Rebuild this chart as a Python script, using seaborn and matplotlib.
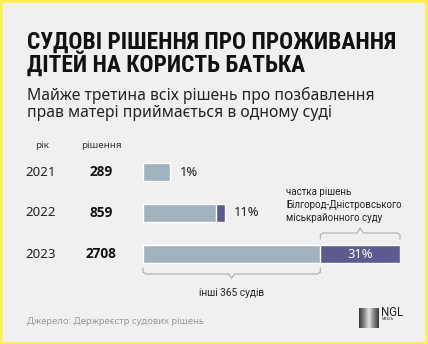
import numpy as np
import pandas as pd
import matplotlib
matplotlib.use("Agg")
import matplotlib.pyplot as plt
from matplotlib import font_manager
import seaborn as sns

# Court decisions on children's residence in favour of the father
years = ["2021", "2022", "2023"]
decisions = [289, 859, 2708]
court_share = [1, 11, 31]  # % handled by the Bilhorod-Dnistrovskyi court
share_labels = ["1%", "11%", "31%"]

df = pd.DataFrame({"year": years, "total": decisions, "share": court_share})
df["others"] = df["total"] * (1 - df["share"] / 100)

W, H = 428, 344
YELLOW = "#fdf04e"
BG = "#f0f0f0"
LIGHT = "#a1b2be"
DARK = "#5c5b8f"
BRACE = "#b4b4b4"

sns.set_theme(style="white")
plt.rcParams["font.family"] = ["Noto Sans", "DejaVu Sans"]

# pick a narrow bold face for the headline if one is installed
installed = {f.name for f in font_manager.fontManager.ttflist}
title_family = "Roboto"
for cand in ["Roboto Condensed", "Liberation Sans Narrow", "Open Sans Condensed",
             "DejaVu Sans Condensed", "Noto Sans Condensed"]:
    if cand in installed:
        title_family = cand
        break

fig = plt.figure(figsize=(W / 100, H / 100), dpi=100)
fig.patch.set_facecolor(YELLOW)

# pixel-space canvas for background and text
cv = fig.add_axes([0, 0, 1, 1])
cv.set_xlim(0, W)
cv.set_ylim(H, 0)
cv.axis("off")
cv.add_patch(plt.Rectangle((3, 3), W - 7, H - 6, color=BG, zorder=0))

title_kw = dict(fontsize=16, fontweight="bold", color="#111111",
                family=title_family, va="center", ha="left")
t1 = cv.text(27, 42, "СУДОВІ РІШЕННЯ ПРО ПРОЖИВАННЯ", **title_kw)
t2 = cv.text(27, 64, "ДІТЕЙ НА КОРИСТЬ БАТЬКА", **title_kw)
# fit the headline to the text column width
renderer = fig.canvas.get_renderer()
w = t1.get_window_extent(renderer).width
fs = 16 * 370 / w
t1.set_fontsize(fs)
t2.set_fontsize(fs)

sub_kw = dict(fontsize=11.3, color="#222222", va="center", ha="left")
cv.text(27, 95, "Майже третина всіх рішень про позбавлення", **sub_kw)
cv.text(27, 113, "прав матері приймається в одному суді", **sub_kw)

cv.text(42, 145, "рік", fontsize=7, color="#333333", ha="center", va="center")
cv.text(101, 145, "рішення", fontsize=7, color="#333333", ha="center", va="center")

cv.text(27, 322, "Джерело: Держреєстр судових рішень", fontsize=6.8,
        color="#999999", ha="left", va="center")

# logo
grad = np.outer(np.ones(20), 1 - np.abs(np.linspace(-1, 1, 20)) ** 0.8)
cv.imshow(grad, cmap="Greys_r", extent=(359, 379, 328, 308), vmin=-0.3, vmax=1.3,
          aspect="auto", zorder=2)
cv.text(381, 312, "NGL", fontsize=8.3, color="#222222", ha="left", va="center",
        family="Roboto")
cv.text(382, 319.5, "MEDIA", fontsize=2.8, color="#333333", ha="left", va="center",
        family="Roboto")

# bar axes: x from 143 px to 400 px, rows centred at 172 / 213.5 / 254 px
x0, x1 = 143, 400
top_px, bot_px = 151.5, 274.5
ax = fig.add_axes([x0 / W, 1 - bot_px / H, (x1 - x0) / W, (bot_px - top_px) / H])
ax.patch.set_alpha(0)

sns.barplot(data=df, x="total", y="year", orient="h", color=DARK,
            width=0.42, saturation=1, ax=ax)
sns.barplot(data=df, x="others", y="year", orient="h", color=LIGHT,
            width=0.42, saturation=1, ax=ax)
ax.set_xlim(0, max(decisions))
ax.set_ylim(2.5, -0.5)
ax.axis("off")

for i, (y, tot, sh, lab) in enumerate(zip(years, decisions, court_share, share_labels)):
    cv.text(41, 172 + i * 41, y, fontsize=9.6, color="#222222", ha="center", va="center")
    ax.annotate(f"{tot}", xy=(0, i), xycoords=("axes fraction", "data"),
                xytext=(101 - x0, 0), textcoords="offset pixels", family="Open Sans",
                fontsize=9.8, fontweight="bold", color="#111111", ha="center", va="center")
    if i < 2:
        ax.annotate(lab, xy=(tot, i), xytext=(9, 0), textcoords="offset pixels",
                    fontsize=9.3, color="#222222", ha="left", va="center")
    else:
        oth = tot * (1 - sh / 100)
        ax.text((oth + tot) / 2, i, lab, fontsize=9.3, color="white",
                ha="center", va="center")

# braces around the 2023 bar
tot = decisions[2]
oth = tot * (1 - court_share[2] / 100)
u = 1 / 41  # one pixel in row units


def brace(a, b, y_flat, y_end, y_tip):
    mid = (a + b) / 2
    dx = tot * 3 / (x1 - x0)
    xs = [a, a, a + dx, mid - dx, mid, mid + dx, b - dx, b, b]
    ys = [y_end, y_flat + (y_end - y_flat) * 0.3, y_flat, y_flat, y_tip, y_flat,
          y_flat, y_flat + (y_end - y_flat) * 0.3, y_end]
    ax.plot(xs, ys, color=BRACE, lw=0.9, solid_joinstyle="round", clip_on=False)


brace(oth, tot, 2 - 21 * u, 2 - 15 * u, 2 - 26 * u)
brace(0, oth, 2 + 20 * u, 2 + 14 * u, 2 + 24 * u)

note_kw = dict(fontsize=7.0, color="#222222", ha="left", va="center", family="Roboto")
cv.text(286, 192, "частка рішень", **note_kw)
cv.text(286, 205, "Білгород-Дністровського", **note_kw)
cv.text(286, 218, "міськрайонного суду", **note_kw)
ax.text(oth / 2, 2 + 39 * u, "інші 365 судів", fontsize=7.3, color="#222222",
        ha="center", va="center", family="Roboto")

fig.savefig("out.png", dpi=100, facecolor=YELLOW)
